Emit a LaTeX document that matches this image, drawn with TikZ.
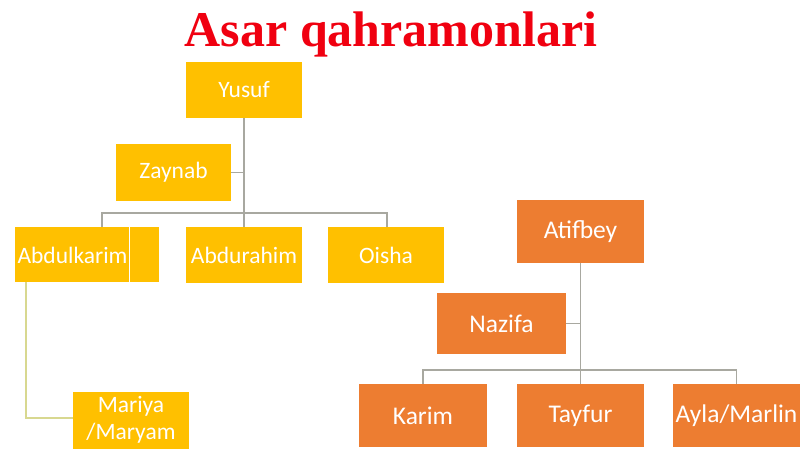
\documentclass[tikz,border=0pt]{standalone}
\usepackage{fontspec}
\setmainfont{Carlito}
\newfontfamily\titlefont{Liberation Serif}
\definecolor{ybox}{HTML}{FFC000}
\definecolor{obox}{HTML}{ED7D31}
\definecolor{lnk}{HTML}{A8A8A0}
\definecolor{ylnk}{HTML}{D8D890}
\definecolor{ttl}{HTML}{F00010}
\begin{document}
\begin{tikzpicture}[x=1pt,y=-1pt,
  yb/.style={rectangle, fill=ybox, text=white, inner sep=0pt, font=\fontsize{23.5}{26.5}\selectfont, align=center},
  ob/.style={rectangle, fill=obox, text=white, inner sep=0pt, font=\fontsize{25.5}{28}\selectfont, align=center},
  lk/.style={draw=lnk, line width=1.1pt},
  ylk/.style={draw=ylnk, line width=1.5pt}]
\useasboundingbox (0,0) rectangle (800,449);
\fill[white] (0,0) rectangle (800,449);
% title
\node[anchor=base, text=ttl, font=\titlefont\bfseries\fontsize{50}{56}\selectfont, inner sep=0pt] (title) at (391,47) {Asar qahramonlari};
% yellow tree
\node[yb, minimum width=116pt, minimum height=56pt] (yusuf) at (244,90) {Yusuf};
\node[yb, minimum width=115pt, minimum height=57pt] (zaynab) at (173.5,172.5) {Zaynab};
\node[yb, minimum width=29pt, minimum height=55pt] (abdkx) at (144.5,254.5) {};
\node[yb, minimum width=114pt, minimum height=55pt] (abdk) at (72,254.5) {};
\node[yb, inner sep=0pt] (abdkt) at (72.5,255) {Abdulkarim};
\node[yb, minimum width=116pt, minimum height=56pt] (abdr) at (244,255) {Abdurahim};
\node[yb, minimum width=116pt, minimum height=56pt] (oisha) at (386,255) {Oisha};
\node[yb, minimum width=116pt, minimum height=57pt] (mariya) at (131,420) {Mariya\\/Maryam};
\coordinate (ybusL) at (102,213);
\coordinate (ybusR) at (387,213);
\coordinate (mc) at (26,418);
\draw[lk] (yusuf.south) -- (abdr.north);
\draw[lk] (zaynab.east) -- (zaynab.east -| yusuf.south);
\draw[lk] (ybusL |- abdk.north) -- (ybusL) -- (ybusR) -- (ybusR |- oisha.north);
\draw[ylk] (mc |- abdk.south) -- (mc) -- (mc -| mariya.west);
% orange tree
\node[ob, minimum width=127pt, minimum height=63pt] (atif) at (580.5,231.5) {Atifbey};
\node[ob, minimum width=129pt, minimum height=61pt] (nazifa) at (501.5,323.5) {Nazifa};
\node[ob, minimum width=128pt, minimum height=63pt] (karim) at (423,415.5) {Karim};
\node[ob, minimum width=127pt, minimum height=63pt] (tayfur) at (580.5,415.5) {Tayfur};
\node[ob, minimum width=127pt, minimum height=63pt] (ayla) at (736.5,415.5) {Ayla/Marlin};
\coordinate (obus) at (580.5,370);
\draw[lk] (atif.south) -- (tayfur.north);
\draw[lk] (nazifa.east) -- (nazifa.east -| atif.south);
\draw[lk] (karim.north) -- (karim.north |- obus) -- (ayla.north |- obus) -- (ayla.north);
\end{tikzpicture}
\end{document}
